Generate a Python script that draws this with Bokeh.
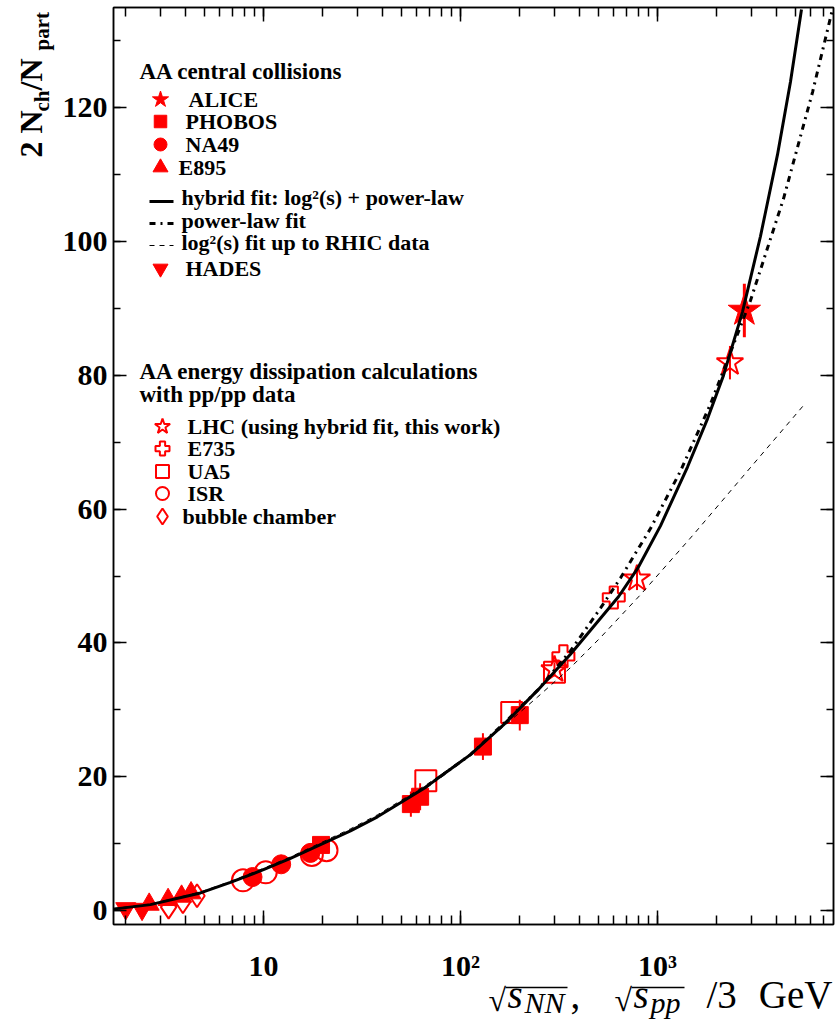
import math
import numpy as np
from bokeh.plotting import figure
from bokeh.models import (Range1d, LogAxis, LinearAxis, LogTicker, SingleIntervalTicker,
                          Label, CustomJSTickFormatter, GridBox, Column)
from bokeh.embed import file_html
from bokeh.resources import INLINE

# ---------------- data ----------------
# AA central collisions (filled markers)
alice_x = [2760.0]
alice_y = [89.7]
alice_err = [4.0]

phobos_x = [19.6, 56.0, 62.4, 130.0, 200.0]
phobos_y = [9.8, 15.9, 17.0, 24.5, 29.2]
phobos_err = [1.0, 1.9, 2.0, 2.0, 2.3]

na49_x = [8.8, 12.3, 17.3]
na49_y = [5.0, 6.9, 8.6]

e895_x = [2.63, 3.28, 3.84, 4.29]
e895_y = [0.9, 1.6, 2.1, 2.6]

hades_x = [2.0, 2.42]
hades_y = [0.3, 0.2]

# pp / p-pbar based estimates (open markers), x = sqrt(s_pp)/3
lhc_x = [300.0, 787.0, 2333.0]
lhc_y = [36.0, 49.6, 81.9]
lhc_err = [1.0, 1.7, 2.5]

e735_x = [333.0, 600.0]
e735_y = [38.0, 46.8]

ua5_x = [66.7, 182.0, 300.0]
ua5_y = [19.4, 29.6, 35.6]

isr_x = [7.87, 10.27, 17.6, 20.9]
isr_y = [4.5, 5.7, 8.3, 9.0]

bubble_x = [3.3, 3.9, 4.6]
bubble_y = [0.5, 1.3, 2.2]

# fit curves, sampled
hybrid_x = [1.732, 2.669, 4.789, 6.80, 10.0, 13.71, 19.47, 27.65, 37.90, 49.6, 66.42, 112.4,
            165.3, 246.0, 361.7, 633.9, 791.6, 1035.7, 1420.0, 1794.0, 2163.0, 2701.0,
            3333.0, 4066.0, 4733.0, 5382.0]
hybrid_y = [0.2, 0.87, 2.62, 4.2, 6.09, 7.8, 9.85, 11.9, 14.0, 16.1, 18.4, 23.3,
            27.75, 32.9, 38.3, 46.9, 51.1, 57.5, 66.3, 73.5, 80.0, 89.5,
            100.8, 113.0, 123.9, 134.7]

power_x = [66.42, 112.4, 165.3, 246.0, 361.7, 513.6, 648.9, 921.4, 1308.7, 1858.0,
           2966.0, 4361.0, 6131.0, 7669.0]
power_y = [18.4, 23.3, 27.9, 32.9, 38.8, 45.2, 49.7, 57.1, 65.7, 75.7,
           91.2, 106.4, 122.4, 134.3]

log2_x = [1.732, 2.669, 4.789, 6.80, 10.0, 13.71, 19.47, 27.65, 37.90, 49.6, 66.42, 112.4,
          165.3, 246.0, 361.7, 513.6, 819.8, 1523.0, 2863.0, 5510.0]
log2_y = [0.3, 0.95, 2.75, 4.35, 6.3, 8.0, 10.1, 12.2, 14.3, 16.4, 18.7, 23.4,
          27.5, 31.9, 36.3, 40.8, 47.2, 56.2, 65.7, 75.5]

x_tick_text = {10: "10", 100: "10\u00b2", 1000: "10\u00b3"}

# legend entries
legend1_labels = ["  ALICE", " PHOBOS", " NA49", "E895",
                  "hybrid fit: log\u00b2(s) + power-law", "power-law fit",
                  "log\u00b2(s) fit up to RHIC data", " HADES"]
legend2_labels = ["LHC (using hybrid fit, this work)", "E735", "UA5", "ISR", "bubble chamber"]

# ---------------- styles ----------------
FONT = "Liberation Serif"
RED = "#ff0000"
W, H = 835, 1020

open_kw = dict(fill_color=None, line_color=RED, line_width=2)
fill_kw = dict(fill_color=RED, line_color=RED, line_width=1)
hybrid_kw = dict(line_color="black", line_width=3)
power_kw = dict(line_color="black", line_width=3, line_dash="6 5 2 5")
log2_kw = dict(line_color="black", line_width=1, line_dash="5 5")

# ---------------- main plot ----------------
p = figure(width=W, height=H, x_axis_type="log",
           x_range=Range1d(1.733, 7824.0), y_range=Range1d(-2.1, 135.0),
           output_backend="svg", toolbar_location=None,
           min_border_left=113, min_border_right=2, min_border_top=7, min_border_bottom=96)
p.grid.visible = False
p.outline_line_color = "black"
p.outline_line_width = 1.5
p.background_fill_color = "white"
p.border_fill_color = "white"

xa = p.xaxis[0]
xa.ticker = LogTicker(num_minor_ticks=10)
xa.major_label_overrides = x_tick_text
xa.major_tick_in, xa.major_tick_out = 14, 0
xa.minor_tick_in, xa.minor_tick_out = 9, 0
xa.major_label_standoff = 24

ya = p.yaxis[0]
ya.ticker = SingleIntervalTicker(interval=20, num_minor_ticks=2)
ya.major_tick_in, ya.major_tick_out = 13, 0
ya.minor_tick_in, ya.minor_tick_out = 7, 0
ya.major_label_standoff = 6

for ax in (xa, ya):
    ax.axis_line_width = 1.5
    ax.major_tick_line_width = 1.5
    ax.minor_tick_line_width = 1.5
    ax.major_label_text_font = FONT
    ax.major_label_text_font_style = "bold"
    ax.major_label_text_font_size = "30px"
    ax.major_label_text_color = "black"

# mirrored tick marks on the top and right edges, without labels
blank = CustomJSTickFormatter(code="return ''")
top_ax = LogAxis(ticker=LogTicker(num_minor_ticks=10), formatter=blank)
right_ax = LinearAxis(ticker=SingleIntervalTicker(interval=20, num_minor_ticks=2), formatter=blank)
for ax, maj, mnr in ((top_ax, 14, 9), (right_ax, 13, 7)):
    ax.major_tick_in, ax.major_tick_out = maj, 0
    ax.minor_tick_in, ax.minor_tick_out = mnr, 0
    ax.major_label_text_font_size = "2px"
    ax.major_label_standoff = 0
    ax.axis_line_width = 1.5
    ax.major_tick_line_width = 1.5
    ax.minor_tick_line_width = 1.5
p.add_layout(top_ax, "above")
p.add_layout(right_ax, "right")

def err_bars(xs, ys, es, width):
    xs = np.asarray(xs); ys = np.asarray(ys); es = np.asarray(es)
    p.segment(x0=xs, y0=ys - es, x1=xs, y1=ys + es, line_color=RED, line_width=width)

err_bars(alice_x, alice_y, alice_err, 3)
err_bars(lhc_x, lhc_y, lhc_err, 2)
err_bars(phobos_x, phobos_y, phobos_err, 2)

# open markers
p.scatter(bubble_x, bubble_y, marker="diamond", size=23, **open_kw)
p.scatter(isr_x, isr_y, marker="circle", size=22, **open_kw)
p.scatter(ua5_x, ua5_y, marker="square", size=21, **open_kw)
p.scatter(e735_x, e735_y, marker="plus", size=22, **open_kw)
p.scatter(lhc_x, lhc_y, marker="star", size=28, **open_kw)

# filled markers
p.scatter(hades_x, hades_y, marker="inverted_triangle", size=20, **fill_kw)
p.scatter(e895_x, e895_y, marker="triangle", size=20, **fill_kw)
p.scatter(na49_x, na49_y, marker="circle", size=19, **fill_kw)
p.scatter(phobos_x, phobos_y, marker="square", size=17, **fill_kw)
p.scatter(alice_x, alice_y, marker="star", size=34, **fill_kw)

# fit curves
p.line(log2_x, log2_y, **log2_kw)
p.line(power_x, power_y, **power_kw)
p.line(hybrid_x, hybrid_y, **hybrid_kw)

# ---------------- overlay in page pixels: legend and axis titles ----------------
ov = figure(width=W, height=H, x_range=Range1d(0, W), y_range=Range1d(H, 0),
            output_backend="svg", toolbar_location=None,
            x_axis_location=None, y_axis_location=None, min_border=0)
ov.grid.visible = False
ov.outline_line_color = None
ov.background_fill_color = None
ov.border_fill_color = None

DROP = 0.35  # the text box anchor sits this fraction of the font size above the baseline

def txt(x, y, s, size, style="normal", align="left", baseline="alphabetic", angle=0.0):
    """Place text; for alphabetic text (x, y) is the point on the baseline."""
    if baseline == "alphabetic":
        if angle:
            x = x - DROP * size
        else:
            y = y - DROP * size
    ov.add_layout(Label(x=x, y=y, text=s, text_font=FONT, text_font_size=f"{size}px",
                        text_font_style=style, text_align=align, text_baseline=baseline,
                        angle=angle, text_color="black"))

# legend 1: AA central collisions
txt(139, 79, "AA central collisions", 23, "bold")
row1 = [99, 121, 144, 167, 197, 220, 242, 268]
lab1_x = [188, 185, 185, 178, 181, 181, 181, 185]
mx1 = 160
ov.scatter([mx1], [row1[0]], marker="star", size=17, **fill_kw)
ov.scatter([mx1], [row1[1]], marker="square", size=12.5, **fill_kw)
ov.scatter([mx1], [row1[2]], marker="circle", size=13, **fill_kw)
ov.scatter([mx1], [row1[3]], marker="triangle", size=15, **fill_kw)
ov.line([149, 173], [row1[4] + 4] * 2, **hybrid_kw)
ov.line([149, 173], [row1[5] + 3] * 2, **power_kw)
ov.line([149, 173], [row1[6] + 3] * 2, **log2_kw)
ov.scatter([mx1], [row1[7]], marker="inverted_triangle", size=15, **fill_kw)
for yy, xx, s in zip(row1, lab1_x, legend1_labels):
    txt(xx, yy, s, 22, "bold", baseline="middle")

# legend 2: energy dissipation estimates
txt(139, 379, "AA energy dissipation calculations", 23, "bold")
txt(139, 402, "with pp/pp data", 23, "bold")
row2 = [426, 448, 471, 493, 516]
lab2_x = [187, 187, 187, 187, 182]
mx2 = 162
ov.scatter([mx2], [row2[0]], marker="star", size=16, **open_kw)
ov.scatter([mx2], [row2[1]], marker="plus", size=14, **open_kw)
ov.scatter([mx2], [row2[2]], marker="square", size=13, **open_kw)
ov.scatter([mx2], [row2[3]], marker="circle", size=13, **open_kw)
ov.scatter([mx2], [row2[4]], marker="diamond", size=16, **open_kw)
for yy, xx, s in zip(row2, lab2_x, legend2_labels):
    txt(xx, yy, s, 22, "bold", baseline="middle")

# y-axis title: 2 N_ch / N_part (reads bottom to top)
up = math.pi / 2
txt(42, 157, "2 N", 32, "bold", angle=up)
txt(49, 111, "ch", 21, "bold", angle=up)
txt(42, 90, " /N", 32, "bold", angle=up)
txt(49, 50, "part", 21, "bold", angle=up)

# x-axis title: sqrt(s_NN), sqrt(s_pp)/3 GeV
BL, SB, RB = 1008, 1012, 1011
txt(488, RB, "\u221a", 32)
txt(507, BL, "s", 39, "italic")
txt(524, SB, "NN", 30, "italic")
txt(570, BL, ",", 39)
txt(614, RB, "\u221a", 32)
txt(633, BL, "s", 39, "italic")
txt(650, SB, "pp", 30, "italic")
txt(706, BL, "/3", 39)
txt(832, BL, "GeV", 39, align="right")
ov.segment(x0=[505, 631], y0=[987, 987], x1=[567, 684], y1=[987, 987],
           line_color="black", line_width=1.5)

# both canvases share one grid cell; the overlay is wrapped so that its frame is
# not aligned with the main plot's frame
layout = GridBox(children=[(p, 0, 0), (Column(children=[ov]), 0, 0)])
open("out.html", "w").write(file_html(layout, INLINE))
